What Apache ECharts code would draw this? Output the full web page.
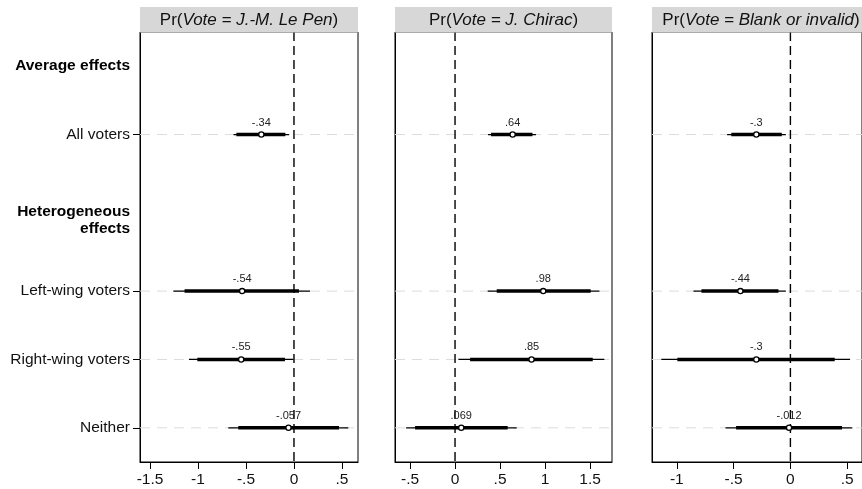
<!DOCTYPE html>
<html><head><meta charset="utf-8">
<script src="https://cdn.jsdelivr.net/npm/echarts@6/dist/echarts.min.js"></script>
<style>html,body{margin:0;padding:0;background:#fff}#c{width:862px;height:489px}</style>
</head><body><div id="c"></div>
<script>
// ---- data ----
const rowLabels = ['All voters', 'Left-wing voters', 'Right-wing voters', 'Neither'];
const groupHeaders = ['Average effects', 'Heterogeneous\neffects'];
const panelTitles = ['Vote = J.-M. Le Pen', 'Vote = J. Chirac', 'Vote = Blank or invalid'];

const lePenEst  = [-0.34, -0.54, -0.55, -0.057];
const lePenCI95 = [[-0.63, -0.05], [-1.257, 0.167], [-1.094, -0.007], [-0.684, 0.566]];
const lePenCI90 = [[-0.60, -0.09], [-1.14, 0.052], [-1.007, -0.094], [-0.58, 0.469]];

const chiracEst  = [0.64, 0.98, 0.85, 0.069];
const chiracCI95 = [[0.367, 0.90], [0.363, 1.604], [0.037, 1.659], [-0.544, 0.685]];
const chiracCI90 = [[0.40, 0.86], [0.463, 1.507], [0.167, 1.53], [-0.444, 0.585]];

const blankEst  = [-0.3, -0.44, -0.3, -0.012];
const blankCI95 = [[-0.557, -0.04], [-0.853, -0.04], [-1.136, 0.525], [-0.571, 0.545]];
const blankCI90 = [[-0.52, -0.076], [-0.783, -0.105], [-0.995, 0.39], [-0.478, 0.454]];

const xTicks0 = [-1.5, -1, -0.5, 0, 0.5];
const xTicks1 = [-0.5, 0, 0.5, 1, 1.5];
const xTicks2 = [-1, -0.5, 0, 0.5];

// ---- layout ----
const FONT = '"Liberation Sans", Arial, Helvetica, sans-serif';
const GRIDS = [{left: 140, width: 218}, {left: 395, width: 217}, {left: 652, width: 218}];
const TOP = 32, HEIGHT = 430;
const X_RANGES = [[-1.604, 0.667], [-0.667, 1.744], [-1.218, 0.63]];
const Y_MAX = 6.29;
const ROW_POS = [1.5, 3.79, 4.79, 5.79];
const HEADER_POS = [0.5, 2.76];

const panels = [
  {est: lePenEst, ci95: lePenCI95, ci90: lePenCI90, ticks: xTicks0},
  {est: chiracEst, ci95: chiracCI95, ci90: chiracCI90, ticks: xTicks1},
  {est: blankEst, ci95: blankCI95, ci90: blankCI90, ticks: xTicks2}
];

const fmt = v => String(v).replace(/^(-?)0\./, '$1.');

const yLabelMap = (v) => {
  for (let i = 0; i < ROW_POS.length; i++) if (Math.abs(v - ROW_POS[i]) < 1e-6) return rowLabels[i];
  for (let i = 0; i < HEADER_POS.length; i++) if (Math.abs(v - HEADER_POS[i]) < 1e-6)
    return groupHeaders[i].split('\n').map(s => '{b|' + s + '}').join('\n');
  return '';
};

const chart = echarts.init(document.getElementById('c'), null, {renderer: 'canvas'});

const grid = GRIDS.map(g => ({left: g.left, width: g.width, top: TOP, height: HEIGHT,
  show: true, borderColor: '#000', borderWidth: 1, backgroundColor: '#fff'}));

const xAxis = panels.map((p, i) => ({
  type: 'value', gridIndex: i, min: X_RANGES[i][0], max: X_RANGES[i][1], position: 'bottom',
  axisLine: {show: true, onZero: false, lineStyle: {color: '#000', width: 1}},
  axisTick: {show: true, length: 7, customValues: p.ticks, lineStyle: {color: '#000'}},
  axisLabel: {customValues: p.ticks, formatter: fmt, fontSize: 15.5, color: '#111', fontFamily: FONT, margin: 10},
  splitLine: {show: false}
}));

const yAxis = panels.map((p, i) => ({
  type: 'value', gridIndex: i, min: 0, max: Y_MAX, inverse: true, position: 'left',
  axisLine: {show: true, onZero: false, lineStyle: {color: '#000', width: 1}},
  axisTick: {show: i === 0, length: 7, customValues: ROW_POS, lineStyle: {color: '#000'}},
  axisLabel: {show: i === 0, customValues: HEADER_POS.concat(ROW_POS).sort((a, b) => a - b),
    formatter: yLabelMap, fontSize: 15.5, color: '#111', fontFamily: FONT, margin: 10, align: 'right',
    rich: {b: {fontWeight: 'bold', fontSize: 15.5, fontFamily: FONT, color: '#000', align: 'right', lineHeight: 17}}},
  splitLine: {show: false}
}));

const series = [];
panels.forEach((p, i) => {
  // light dashed row guides
  series.push({
    type: 'custom', xAxisIndex: i, yAxisIndex: i, z: 1, silent: true, clip: true,
    data: ROW_POS.map(y => [y]),
    encode: {y: 0},
    renderItem: (params, api) => {
      const y = api.value(0);
      const a = api.coord([X_RANGES[i][0], y]), b = api.coord([X_RANGES[i][1], y]);
      return {type: 'line', shape: {x1: a[0], y1: a[1], x2: b[0], y2: b[1]},
        style: {stroke: '#dcdcdc', lineWidth: 1, lineDash: [10, 7]}};
    }
  });
  // zero reference line
  series.push({
    type: 'custom', xAxisIndex: i, yAxisIndex: i, z: 2, silent: true, clip: true,
    data: [[0]],
    encode: {x: 0},
    renderItem: (params, api) => {
      const x = api.value(0);
      const a = api.coord([x, 0]), b = api.coord([x, Y_MAX]);
      return {type: 'line', shape: {x1: a[0], y1: a[1], x2: b[0], y2: b[1]},
        style: {stroke: '#000', lineWidth: 1.4, lineDash: [9, 5]}};
    }
  });
  // estimates and CIs
  series.push({
    type: 'custom', xAxisIndex: i, yAxisIndex: i, z: 5, clip: false,
    data: ROW_POS.map((y, r) => [y, p.ci95[r][0], p.ci95[r][1], p.ci90[r][0], p.ci90[r][1], p.est[r]]),
    encode: {x: [1, 2, 3, 4, 5], y: 0},
    renderItem: (params, api) => {
      const y = api.value(0);
      const c = v => api.coord([v, y]);
      const a = c(api.value(1)), b = c(api.value(2)), d = c(api.value(3)), e = c(api.value(4)), pt = c(api.value(5));
      return {type: 'group', children: [
        {type: 'line', shape: {x1: a[0], y1: a[1], x2: b[0], y2: b[1]}, style: {stroke: '#000', lineWidth: 1.2}},
        {type: 'line', shape: {x1: d[0], y1: d[1], x2: e[0], y2: e[1]}, style: {stroke: '#000', lineWidth: 3.5}},
        {type: 'circle', shape: {cx: pt[0], cy: pt[1], r: 2.6}, style: {fill: '#fff', stroke: '#000', lineWidth: 1.3}},
        {type: 'text', x: pt[0], y: pt[1] - 12, style: {text: fmt(api.value(5)), fontSize: 11, fontFamily: FONT,
          fill: '#222', align: 'center', verticalAlign: 'middle'}}
      ]};
    }
  });
});

const graphic = [];
GRIDS.forEach((g, i) => {
  graphic.push({type: 'rect', z: 100, shape: {x: g.left, y: 7, width: g.width, height: TOP - 7 + 0.5},
    style: {fill: '#d7d7d7'}});
  graphic.push({type: 'text', z: 101, x: g.left + g.width / 2, y: 7 + (TOP - 7) / 2 + 1,
    style: {text: '{n|Pr(}{i|' + panelTitles[i] + '}{n|)}', align: 'center', verticalAlign: 'middle',
      rich: {n: {fontSize: 17, fontFamily: FONT, fill: '#111'}, i: {fontSize: 17, fontFamily: FONT, fontStyle: 'italic', fill: '#111'}}}});
});

chart.setOption({animation: false, backgroundColor: '#fff', grid, xAxis, yAxis, series, graphic});
</script></body></html>
